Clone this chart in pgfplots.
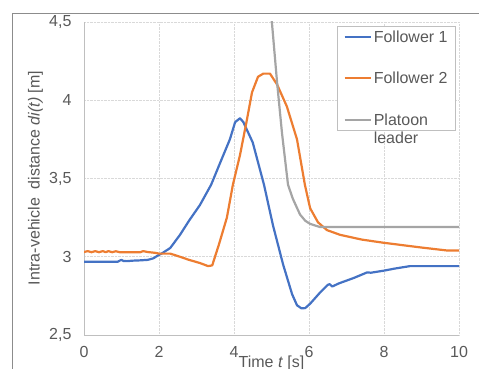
\documentclass[border=0pt]{standalone}
\usepackage{fontspec}
\setmainfont{Liberation Sans}
\usepackage{pgfplots}
\pgfplotsset{compat=1.18}
\definecolor{fblue}{HTML}{4472C4}
\definecolor{forange}{HTML}{ED7D31}
\definecolor{fgray}{HTML}{A5A5A5}
\definecolor{txt}{HTML}{595959}
\definecolor{gridc}{HTML}{D9D9D9}
\definecolor{axc}{HTML}{BFBFBF}
\definecolor{border}{HTML}{8C8C8C}
\begin{document}
\begin{tikzpicture}[x=1pt,y=1pt]
\useasboundingbox (0,0) rectangle (479,369);
\draw[border, line width=0.9pt] (12.5,0) -- (12.5,355.5) -- (479,355.5);
\begin{axis}[
  at={(84pt,34pt)}, anchor=south west,
  scale only axis, width=375pt, height=313pt,
  xmin=0, xmax=10, ymin=2.5, ymax=4.5,
  xtick={0,2,4,6,8,10}, ytick={2.5,3,3.5,4,4.5},
  /pgf/number format/use comma,
  /pgf/number format/assume math mode=true,
  major tick length=0pt,
  grid=major,
  grid style={densely dotted, gridc, line width=0.6pt},
  axis lines*=left,
  axis line style={-, axc, line width=0.8pt},
  tick label style={font=\fontsize{16}{19}\selectfont, text=txt},
  x tick label style={anchor=north, yshift=-8pt},
  y tick label style={anchor=east, xshift=-9pt},
  xlabel={Time \textit{t} [s]},
  label style={font=\fontsize{16}{19}\selectfont, text=txt},
  xlabel style={at={(axis description cs:0.5,0)}, anchor=north, yshift=-21pt, inner sep=0pt},
  legend style={at={(axis description cs:0.992,0.987)}, anchor=north east,
    draw=axc, line width=0.8pt, fill=white,
    font=\fontsize{16}{18}\selectfont, text=txt,
    inner xsep=6pt, inner ysep=2pt, row sep=24pt},
  legend cell align=left,
  legend image code/.code={\draw[#1] (0pt,0pt) -- (26pt,0pt);},
  every axis plot/.append style={line width=2.2pt, line join=round},
]
\addplot[fblue] coordinates {
(0,2.968)(0.9,2.968)(0.95,2.975)(1.0,2.98)(1.05,2.973)(1.15,2.972)(1.3,2.975)(1.5,2.977)(1.7,2.98)(1.85,2.99)(1.95,3.005)(2.1,3.025)(2.3,3.056)(2.56,3.14)(2.8,3.23)(3.09,3.33)(3.39,3.46)(3.63,3.60)(3.89,3.75)(4.03,3.86)(4.16,3.885)(4.25,3.86)(4.5,3.73)(4.8,3.46)(5.04,3.20)(5.31,2.95)(5.55,2.76)(5.68,2.69)(5.8,2.67)(5.9,2.672)(6.03,2.70)(6.29,2.77)(6.5,2.82)(6.55,2.825)(6.62,2.81)(6.8,2.83)(7.2,2.865)(7.55,2.90)(7.65,2.898)(7.97,2.91)(8.3,2.925)(8.69,2.94)(10,2.94)
};
\addlegendentry{Follower 1}
\addplot[forange] coordinates {
(0,3.03)(0.1,3.036)(0.2,3.029)(0.3,3.036)(0.4,3.029)(0.5,3.036)(0.58,3.029)(0.65,3.036)(0.75,3.029)(0.85,3.035)(0.95,3.029)(1.5,3.029)(1.58,3.036)(1.7,3.03)(1.9,3.025)(2.0,3.02)(2.3,3.02)(2.56,3.00)(2.8,2.98)(3.09,2.96)(3.31,2.94)(3.42,2.945)(3.6,3.08)(3.81,3.25)(3.97,3.46)(4.16,3.65)(4.34,3.87)(4.48,4.05)(4.64,4.15)(4.78,4.17)(4.96,4.17)(5.15,4.10)(5.41,3.96)(5.68,3.75)(5.89,3.46)(6.03,3.31)(6.24,3.22)(6.48,3.17)(6.83,3.14)(7.4,3.11)(7.97,3.09)(8.96,3.06)(9.68,3.04)(10,3.04)
};
\addlegendentry{Follower 2}
\addplot[fgray] coordinates {
(4.9,4.8)(5.01,4.5)(5.15,4.11)(5.28,3.79)(5.44,3.46)(5.57,3.37)(5.76,3.27)(5.9,3.23)(6.03,3.21)(6.29,3.19)(10,3.19)
};
\addlegendentry{\begin{tabular}[t]{@{}l@{}}Platoon\\leader\end{tabular}}
\end{axis}
\node[rotate=90, font=\fontsize{16}{19}\selectfont, text=txt] at (35.5,191) {Intra-vehicle\ \ distance \textit{di(t)} [m]};
\end{tikzpicture}
\end{document}
